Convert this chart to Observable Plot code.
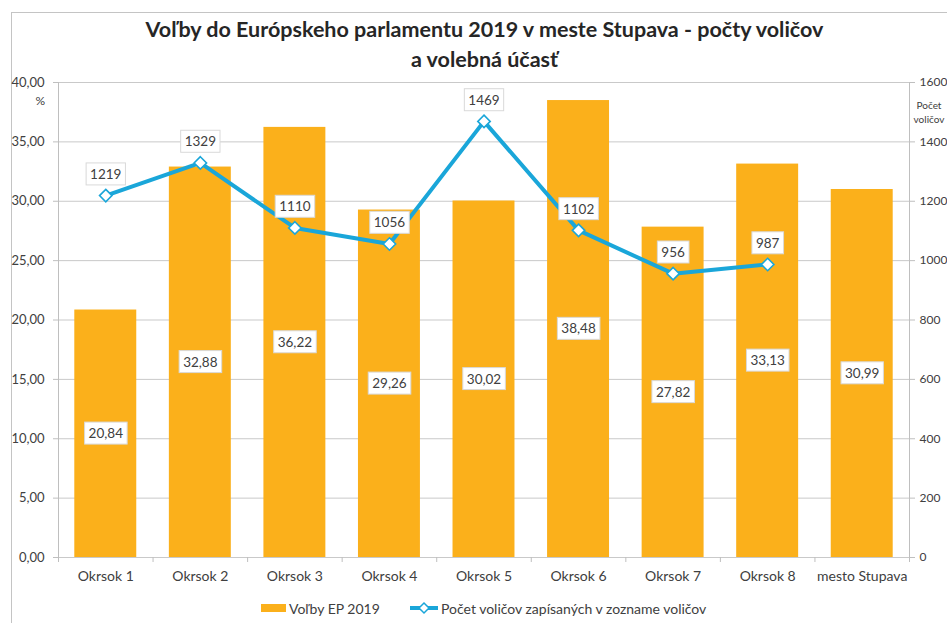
<!DOCTYPE html>
<html><head><meta charset="utf-8">
<script src="https://cdn.jsdelivr.net/npm/d3@7"></script>
<script src="https://cdn.jsdelivr.net/npm/@observablehq/plot@0.6"></script>
<style>
html,body{margin:0;padding:0;background:#fff;overflow:hidden;}
body{width:947px;height:623px;position:relative;font-family:Lato,"Open Sans",sans-serif;color:#404040;}
#frame{position:absolute;left:11px;top:12px;width:1000px;height:700px;border:1px solid #c4c4c4;box-sizing:border-box;}
#title{position:absolute;left:0;top:14px;width:969px;text-align:center;font-weight:bold;font-size:21.5px;line-height:30px;color:#262626;}
#chart{position:absolute;left:0;top:0;}
#pct{position:absolute;left:0;width:45px;top:93px;text-align:right;font-size:12px;}
#rlab{position:absolute;left:902px;width:54px;top:98px;text-align:center;font-size:10px;line-height:14px;}
#legend{position:absolute;top:598px;left:0;width:947px;height:20px;font-size:14px;}
.li{position:absolute;top:0;height:20px;display:flex;align-items:center;}
</style></head>
<body>
<div id="frame"></div>
<div id="chart"></div>
<div id="title">Voľby do Európskeho parlamentu 2019 v meste Stupava - počty voličov<br>a volebná účasť</div>
<div id="pct">%</div>
<div id="rlab">Počet<br>voličov</div>
<div id="legend">
  <div class="li" style="left:261px"><span style="display:inline-block;width:25px;height:8px;background:#FBB01B;margin-right:3px"></span>Voľby EP 2019</div>
  <div class="li" style="left:410px"><svg width="29" height="14" style="margin-right:2px"><line x1="0" y1="7" x2="28" y2="7" stroke="#1AA6D9" stroke-width="4"/><path d="M14,2 L19,7 L14,12 L9,7 Z" fill="#fff" stroke="#1AA6D9" stroke-width="1.5"/></svg>Počet voličov zapísaných v zozname voličov</div>
</div>
<script>
const categories = ["Okrsok 1","Okrsok 2","Okrsok 3","Okrsok 4","Okrsok 5","Okrsok 6","Okrsok 7","Okrsok 8","mesto Stupava"];
const turnout = [20.84, 32.88, 36.22, 29.26, 30.02, 38.48, 27.82, 33.13, 30.99];
const voters = [1219, 1329, 1110, 1056, 1469, 1102, 956, 987, null];
const leftTicks = [0, 5, 10, 15, 20, 25, 30, 35, 40];
const rightTicks = [0, 200, 400, 600, 800, 1000, 1200, 1400, 1600];
const rightMax = 1600, leftMax = 40;
const ratio = rightMax / leftMax;

const table = categories.map((c, i) => ({i, c, t: turnout[i], v: voters[i]}));
const lineData = table.filter(d => d.v != null);
const comma2 = v => v.toFixed(2).replace(".", ",");

const BAR = "#FBB01B", LINE = "#1AA6D9", AX = "#bfbfbf", TXT = "#404040";

const plot = Plot.plot({
  width: 947, height: 623,
  marginTop: 82, marginBottom: 66, marginLeft: 58, marginRight: 38,
  x: {domain: [0, categories.length]},
  y: {domain: [0, leftMax]},
  style: {fontFamily: "Lato, 'Open Sans', sans-serif", fontSize: "13px", color: TXT, background: "transparent", overflow: "visible"},
  marks: [
    Plot.gridY(leftTicks, {stroke: "#c9c9c9", strokeOpacity: 1}),
    Plot.ruleX([0], {stroke: AX}),
    Plot.ruleX([categories.length], {stroke: AX}),
    Plot.axisY(leftTicks, {anchor: "left", tickSize: 5, tickPadding: 9, stroke: AX, fill: TXT, fontSize: 13, tickFormat: comma2, label: null}),
    Plot.axisY(rightTicks.map(d => d / ratio), {anchor: "right", tickSize: 5, tickPadding: 5, stroke: AX, fill: TXT, fontSize: 12, tickFormat: d => String(Math.round(d * ratio)), label: null}),
    Plot.axisX(d3.range(categories.length + 1), {tickSize: 5, stroke: AX, tickFormat: () => "", label: null}),
    Plot.axisX(d3.range(categories.length).map(i => i + 0.5), {tickSize: 0, tickPadding: 14, fill: TXT, fontSize: 14, tickFormat: d => categories[Math.floor(d)], label: null}),
    Plot.rectY(table, {x1: "i", x2: d => d.i + 1, y: "t", insetLeft: 16.3, insetRight: 16.3, fill: BAR}),
    Plot.line(lineData, {x: d => d.i + 0.5, y: d => d.v / ratio, stroke: LINE, strokeWidth: 4}),
    Plot.dot(lineData, {x: d => d.i + 0.5, y: d => d.v / ratio, symbol: "diamond2", r: 5.6, fill: "#fff", stroke: LINE, strokeWidth: 1.6}),
    Plot.text(table, {x: d => d.i + 0.5, y: d => d.t / 2, text: d => comma2(d.t), fill: TXT, fontSize: 13.5, className: "dlabel"}),
    Plot.text(lineData, {x: d => d.i + 0.5, y: d => d.v / ratio, dy: -21, text: d => String(d.v), fill: TXT, fontSize: 13.5, className: "dlabel"})
  ]
});
document.getElementById("chart").appendChild(plot);

// white label boxes behind data label texts
let labelTexts = plot.querySelectorAll('.dlabel text');
if (!labelTexts.length) labelTexts = plot.querySelectorAll('g[aria-label="text"] text');
labelTexts.forEach(t => {
  const b = t.getBBox();
  const cy = b.y + b.height / 2;
  const r = document.createElementNS("http://www.w3.org/2000/svg", "rect");
  r.setAttribute("x", b.x - 4);
  r.setAttribute("y", cy - 11);
  r.setAttribute("width", b.width + 8);
  r.setAttribute("height", 22);
  r.setAttribute("fill", "#fff");
  r.setAttribute("stroke", "#d9d9d9");
  r.setAttribute("stroke-width", 1);
  const tr = t.getAttribute("transform");
  if (tr) r.setAttribute("transform", tr);
  t.parentNode.insertBefore(r, t);
});
</script>
</body></html>
